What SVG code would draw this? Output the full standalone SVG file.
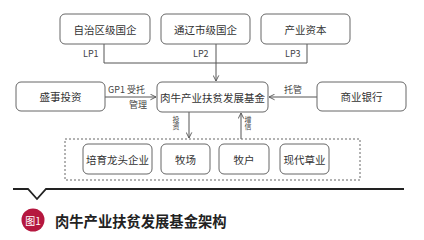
<svg xmlns="http://www.w3.org/2000/svg" width="424" height="240" viewBox="0 0 424 240">
<defs>
<marker id="arr" viewBox="0 0 10 10" refX="9" refY="5" markerWidth="7" markerHeight="7" orient="auto" markerUnits="userSpaceOnUse">
<path d="M1,1 L9,5 L1,9" fill="none" stroke="#555" stroke-width="1.3"/>
</marker>
<style>
.box{fill:#fff;stroke:#666;stroke-width:1}
.t{font-family:"Noto Sans CJK SC","Liberation Sans",sans-serif;font-size:10.5px;fill:#333;text-anchor:middle;dominant-baseline:central}
.s{font-family:"Noto Sans CJK SC","Liberation Sans",sans-serif;font-size:9px;fill:#444;dominant-baseline:central}
.v{font-family:"Noto Sans CJK SC","Liberation Sans",sans-serif;font-size:7px;fill:#444;text-anchor:middle;writing-mode:vertical-rl}
.c{fill:none;stroke:#555;stroke-width:1}
</style>
</defs>
<rect width="424" height="240" fill="#fff"/>
<g id="connectors">
<polyline class="c" points="104,44 104,63 307,63 307,44"/>
<line class="c" x1="216" y1="44" x2="216" y2="81" marker-end="url(#arr)"/>
<line class="c" x1="105" y1="97" x2="156" y2="97" marker-end="url(#arr)"/>
<line class="c" x1="317" y1="97" x2="269" y2="97" marker-end="url(#arr)"/>
<line class="c" x1="189" y1="112" x2="189" y2="138" marker-end="url(#arr)"/>
<line class="c" x1="241" y1="139" x2="241" y2="113" marker-end="url(#arr)"/>
<text class="s" x="83" y="53">LP1</text>
<text class="s" x="193" y="53">LP2</text>
<text class="s" x="285" y="53">LP3</text>
<text class="s" x="108" y="89">GP1 受托</text>
<text class="s" x="129" y="104">管理</text>
<text class="s" x="284" y="89">托管</text>
<text class="v" x="176" y="123">投资</text>
<text class="v" x="248" y="123">增信</text>
</g>
<g id="n1"><rect class="box" x="60" y="14" width="90" height="30" rx="5"/><text class="t" x="105" y="29">自治区级国企</text></g>
<g id="n2"><rect class="box" x="161" y="14" width="89" height="30" rx="5"/><text class="t" x="205.5" y="29">通辽市级国企</text></g>
<g id="n3"><rect class="box" x="261" y="14" width="89" height="30" rx="5"/><text class="t" x="305.5" y="29">产业资本</text></g>
<g id="n4"><rect class="box" x="16" y="82" width="89" height="29" rx="5"/><text class="t" x="60.5" y="96.5">盛事投资</text></g>
<g id="fund"><rect class="box" x="157" y="82" width="111" height="30" rx="5"/><text class="t" x="212.5" y="97">肉牛产业扶贫发展基金</text></g>
<g id="n5"><rect class="box" x="317" y="82" width="89" height="29" rx="5"/><text class="t" x="361.5" y="96.5">商业银行</text></g>
<g id="group"><rect x="65" y="139" width="295" height="41" fill="none" stroke="#666" stroke-width="1" stroke-dasharray="2,2"/></g>
<g id="b1"><rect class="box" x="83" y="144" width="69" height="30" rx="5"/><text class="t" x="117.5" y="159">培育龙头企业</text></g>
<g id="b2"><rect class="box" x="161" y="144" width="49" height="30" rx="5"/><text class="t" x="185.5" y="159">牧场</text></g>
<g id="b3"><rect class="box" x="219" y="144" width="50" height="30" rx="5"/><text class="t" x="244" y="159">牧户</text></g>
<g id="b4"><rect class="box" x="280" y="144" width="49" height="30" rx="5"/><text class="t" x="304.5" y="159">现代草业</text></g>
<polyline points="13,189 28,189 37,199 46,189 404,189" fill="none" stroke="#222" stroke-width="1.8"/>
<circle cx="33" cy="220" r="11.5" fill="#b5173f"/>
<text x="33" y="220.5" font-family="'Noto Sans CJK SC','Liberation Sans',sans-serif" font-size="10" fill="#fff" text-anchor="middle" dominant-baseline="central">图1</text>
<text x="55" y="220" font-family="'Noto Sans CJK SC','Liberation Sans',sans-serif" font-size="14.3" font-weight="bold" fill="#222" dominant-baseline="central">肉牛产业扶贫发展基金架构</text>
</svg>
